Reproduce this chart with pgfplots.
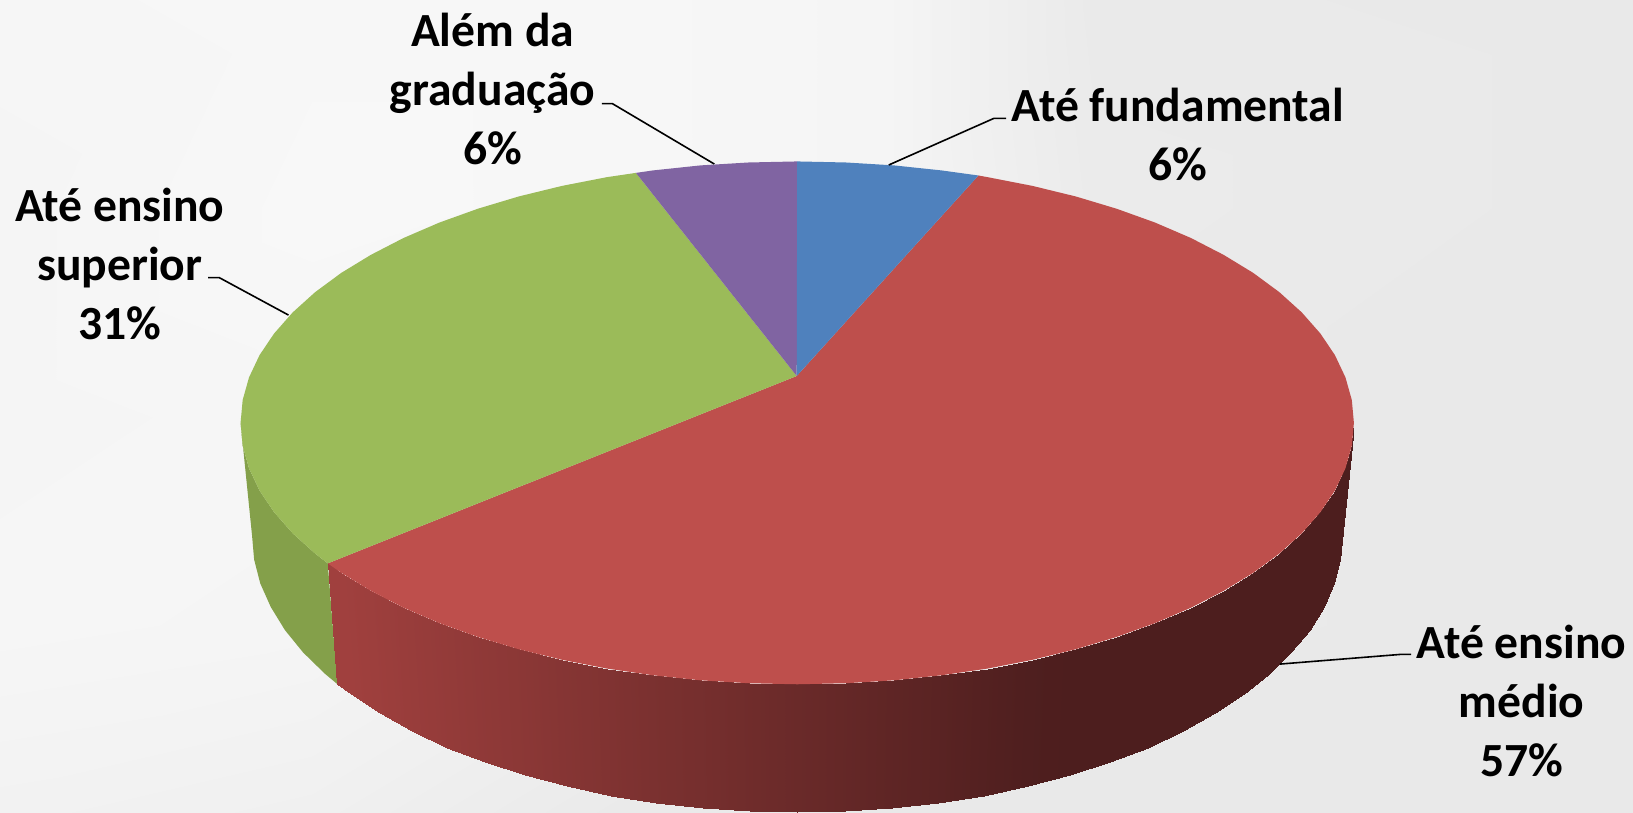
\documentclass[border=0pt]{standalone}
\usepackage{pgfplots}
\pgfplotsset{compat=1.18}
\usepackage{fontspec}
\setmainfont{Carlito}
\definecolor{pieblue}{HTML}{4F81BD}
\definecolor{piered}{HTML}{BE4F4C}
\definecolor{piegreen}{HTML}{9BBB59}
\definecolor{piepurple}{HTML}{8064A2}
\definecolor{sidegreen}{HTML}{84A04A}
\begin{document}
\begin{tikzpicture}[font=\fontsize{23.8}{29.4}\selectfont\bfseries]
\begin{axis}[
    scale only axis, width=816.5pt, height=406.5pt,
    xmin=0, xmax=1568, ymin=0, ymax=780.6, y dir=reverse,
    axis line style={draw=none}, ticks=none,
    clip=false, no markers,
    colormap={side}{rgb255=(77,30,30) rgb255=(160,64,62)},
    colormap={bg}{rgb255=(232,232,232) rgb255=(248,248,248)},
    point meta min=0, point meta max=1,
]
% background tone
\addplot[surf, shader=interp, colormap name=bg, mesh/cols=6, point meta=\thisrow{c}] table {
x y c
0 0 .88
300 0 .94
600 0 .94
850 0 .81
1050 0 .12
1568 0 .06
0 200 .81
300 200 1
600 200 .94
850 200 .81
1050 200 .19
1568 200 .06
0 400 .81
300 400 .88
600 400 .81
850 400 .5
1050 400 .12
1568 400 .06
0 600 .88
300 600 .81
600 600 .5
850 600 .25
1050 600 .12
1568 600 .06
0 780.6 .62
300 780.6 .5
600 780.6 .12
850 780.6 .06
1050 780.6 .06
1568 780.6 .06
};
% green side
\addplot[fill=sidegreen, draw=none] coordinates {
  (314.7,540.9) (302.6,531.5) (281.1,512.1) (263.2,491.8) (249.2,471) (239.1,449.6) (233,427.9) (231,406)
  (242,514) (244,537.2) (249.9,560.2) (260,582.8) (273.6,605) (291,626.4) (312.1,647) (324,656.9)
} -- cycle;
% red side, strips top edge / bottom edge, c = shade
\addplot[surf, shader=interp, colormap name=side, mesh/cols=2, point meta=\thisrow{c}] table {
x y c
1300 406 0
1289 514 0
1298 427.9 0
1287 537.2 0
1291.9 449.6 0
1281.1 560.2 0
1281.8 471 0
1271.1 582.8 0
1267.8 491.8 0
1257.4 605 0
1249.9 512.1 0
1240 626.4 0
1228.4 531.5 0
1218.9 647 0
1203.3 550 0
1194.3 666.6 0
1174.9 567.3 0
1166.5 685 0
1143.5 583.5 0
1135.7 702.1 0
1109.1 598.3 0
1102 717.8 0
1072.1 611.6 0
1065.7 731.9 0
1032.8 623.4 0
1027.2 744.4 0
991.4 633.5 0.02
986.8 755.1 0.02
948.3 641.9 0.08
944.5 764 0.08
903.8 648.4 0.15
900.9 770.9 0.15
858.3 653.2 0.21
856.4 776 0.21
812.1 656 0.28
811.1 779 0.28
765.5 657 0.35
765.5 780 0.35
718.9 656 0.42
719.9 779 0.42
672.7 653.2 0.49
674.6 776 0.49
627.2 648.4 0.55
630.1 770.9 0.55
582.7 641.9 0.62
586.5 764 0.62
539.6 633.5 0.68
544.2 755.1 0.68
498.2 623.4 0.75
503.8 744.4 0.75
458.9 611.6 0.80
465.3 731.9 0.80
421.9 598.3 0.86
429 717.8 0.86
387.5 583.5 0.91
395.3 702.1 0.91
356.1 567.3 0.96
364.5 685 0.96
327.7 550 1
336.7 666.6 1
314.7 540.9 1
324 656.9 1
};
% top faces
\addplot[fill=piered, draw=none] coordinates {
  (765,361) (939.5,168.5) (948.3,170.1) (991.4,178.5) (1032.8,188.6) (1072.1,200.4) (1109.1,213.7) (1143.5,228.5)
  (1174.9,244.7) (1203.3,262) (1228.4,280.5) (1249.9,299.9) (1267.8,320.2) (1281.8,341) (1291.9,362.4) (1298,384.1)
  (1300,406) (1298,427.9) (1291.9,449.6) (1281.8,471) (1267.8,491.8) (1249.9,512.1) (1228.4,531.5) (1203.3,550)
  (1174.9,567.3) (1143.5,583.5) (1109.1,598.3) (1072.1,611.6) (1032.8,623.4) (991.4,633.5) (948.3,641.9) (903.8,648.4)
  (858.3,653.2) (812.1,656) (765.5,657) (718.9,656) (672.7,653.2) (627.2,648.4) (582.7,641.9) (539.6,633.5) (498.2,623.4)
  (458.9,611.6) (421.9,598.3) (387.5,583.5) (356.1,567.3) (327.7,550) (314.7,540.9)
} -- cycle;
\addplot[fill=piegreen, draw=none] coordinates {
  (765,361) (314.7,540.9) (302.6,531.5) (281.1,512.1) (263.2,491.8) (249.2,471) (239.1,449.6) (233,427.9) (231,406)
  (233,384.1) (239.1,362.4) (249.2,341) (263.2,320.2) (281.1,299.9) (302.6,280.5) (327.7,262) (356.1,244.7)
  (387.5,228.5) (421.9,213.7) (458.9,200.4) (498.2,188.6) (539.6,178.5) (582.7,170.1) (610.6,166)
} -- cycle;
\addplot[fill=piepurple, draw=none] coordinates {
  (765,361) (610.6,166) (627.2,163.6) (672.7,158.8) (718.9,156) (765.5,155)
} -- cycle;
\addplot[fill=pieblue, draw=none] coordinates {
  (765,361) (765.5,155) (812.1,156) (858.3,158.8) (903.8,163.6) (939.5,168.5)
} -- cycle;
% leader lines
\addplot[black, line width=0.8pt] coordinates {(853.4,158.4) (954.4,113.6) (966,113.6)};
\addplot[black, line width=0.8pt] coordinates {(578,99.5) (588,99.5) (685.9,157.5)};
\addplot[black, line width=0.8pt] coordinates {(199.9,266.6) (210.6,266.6) (277,302.5)};
\addplot[black, line width=0.8pt] coordinates {(1355,628.3) (1345,628.3) (1229,637.6)};
% labels
\node[align=center] at (axis cs:1131,129) {Até fundamental\\6\%};
\node[align=center] at (axis cs:1461,673) {Até ensino\\médio\\57\%};
\node[align=center] at (axis cs:115,253.5) {Até ensino\\superior\\31\%};
\node[align=center] at (axis cs:473,85.5) {Além da\\graduação\\6\%};
\end{axis}
\end{tikzpicture}
\end{document}
